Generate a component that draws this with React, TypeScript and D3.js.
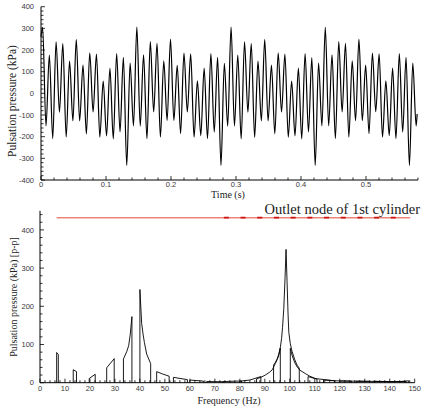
import React from "react";
import * as d3 from "d3";

const W = 424;
const H = 410;

// ---------- Top chart: pulsation pressure time history ----------
// alternating peak / trough values (kPa), one per half cycle
const TIME_START = 0.0025;
const HALF_CYCLE = 0.005177;
const FIRST_POINT: [number, number] = [0, 262];
const LAST_POINT: [number, number] = [0.5787, -95];
const PRESSURE_EXTREMA = [
  305, -150, 177, -209, 238, -87, 230, -202, 149, -127, 249, -127, 130, -187,
  187, -86, 181, -202, 57, -196, 115, -210, 184, -178, 166, -333, 140, -150,
  306, -151, 178, -209, 239, -86, 231, -202, 150, -125, 250, -125, 129, -186,
  186, -86, 182, -202, 58, -195, 116, -209, 184, -179, 166, -333, 139, -151,
  306, -150, 177, -210, 238, -87, 230, -203, 149, -127, 249, -127, 130, -187,
  187, -86, 181, -202, 57, -196, 116, -210, 184, -178, 165, -333, 140, -150,
  305, -150, 178, -209, 239, -86, 231, -202, 150, -126, 250, -126, 130, -186,
  186, -85, 182, -202, 58, -195, 116, -209, 184, -179, 166, -333, 140, -150,
];
const TIME_TICKS = [0, 0.1, 0.2, 0.3, 0.4, 0.5];
const TIME_TICK_LABELS = ["0", "0.1", "0.2", "0.3", "0.4", "0.5"];
const PRESSURE_TICKS = [-400, -300, -200, -100, 0, 100, 200, 300, 400];

// ---------- Bottom chart: spectrum ----------
// each band: list of [frequency (Hz), amplitude (kPa p-p)]
const SPECTRUM_BANDS: [number, number][][] = [
  [[6.67, 79], [7.33, 74]],
  [[13.3, 34], [14.6, 29]],
  [[19.7, 11], [22.1, 22]],
  [[26.7, 39], [29.7, 63]],
  [[33.4, 62], [34.7, 81], [35.5, 97], [36.1, 125], [36.8, 173]],
  [[40.0, 244], [40.7, 155], [41.3, 125], [41.8, 105], [42.7, 75], [44.3, 50]],
  [[46.7, 29], [49.0, 23], [51.7, 17]],
  [[53.4, 14], [59.0, 8]],
  [[60.0, 7], [65.5, 4]],
  [[66.7, 3], [73.3, 2.5]],
  [[73.3, 3], [80.7, 4.5]],
  [[80.0, 4], [84.0, 7], [88.4, 16]],
  [[86.7, 10], [88.4, 14], [90.2, 20], [92.0, 28], [93.0, 34], [94.2, 50], [95.0, 61], [95.6, 72], [96.2, 91]],
  [[93.5, 46], [94.2, 53], [95.0, 63], [95.6, 75], [96.2, 92], [96.7, 115], [97.1, 145], [97.6, 195], [98.1, 275], [98.5, 349],
   [98.9, 265], [99.3, 180], [99.6, 132], [100.2, 102], [100.9, 82], [102.0, 60], [102.9, 46], [103.8, 38]],
  [[100.2, 90], [100.9, 72], [102.0, 52], [103.0, 41], [104.0, 33], [106.2, 24], [108.0, 17], [110.9, 9]],
  [[107.3, 16], [110.0, 11], [114.0, 8], [118.0, 5]],
  [[113.5, 7], [118.0, 5], [124.7, 4]],
  [[120.0, 4.5], [126.0, 4], [132.0, 3.5]],
  [[126.7, 4], [133.0, 3.5], [139.3, 3]],
  [[133.3, 3.5], [140.0, 3], [146.6, 3]],
  [[140.0, 3], [144.0, 3], [147.6, 5]],
];
const LIMIT_VALUE = 432;
const LIMIT_RANGE = [6.67, 148.2];
const LIMIT_DASHED_RANGE = [73.6, 142.4];
const FREQ_TICKS = [0, 10, 20, 30, 40, 50, 60, 70, 80, 90, 100, 110, 120, 130, 140, 150];
const AMP_TICKS = [0, 100, 200, 300, 400];
const TITLE = "Outlet node of 1st cylinder";

const SANS = "'Liberation Sans', Arial, sans-serif";
const SERIF = "'Liberation Serif', 'Times New Roman', serif";
const TICK_COLOR = "#3a3a3a";
const TICK_FS = 7.5;

export default function App() {
  // top scales
  const xT = d3.scaleLinear().domain([0, 0.58]).range([41, 418]);
  const yT = d3.scaleLinear().domain([-400, 400]).range([180, 6.7]);
  const pts: [number, number][] = [FIRST_POINT];
  PRESSURE_EXTREMA.forEach((v, i) => pts.push([TIME_START + i * HALF_CYCLE, v]));
  pts.push(LAST_POINT);
  const lineT = d3
    .line<[number, number]>()
    .x((d) => xT(d[0]))
    .y((d) => yT(d[1]))
    .curve(d3.curveMonotoneX);

  // bottom scales
  const xB = d3.scaleLinear().domain([0, 150]).range([40, 414.7]);
  const yB = d3.scaleLinear().domain([0, 450]).range([382.7, 210.8]);
  const bandPath = (band: [number, number][]) => {
    const full: [number, number][] = [[band[0][0], 0], ...band, [band[band.length - 1][0], 0]];
    return d3
      .line<[number, number]>()
      .x((d) => xB(d[0]))
      .y((d) => yB(d[1]))(full) as string;
  };

  const timeMinor = d3.range(0, 0.5801, 0.02);
  const presMinor = d3.range(-400, 401, 20);
  const freqMinor = d3.range(0, 150.1, 2);
  const ampMinor = d3.range(0, 441, 20);

  const isMajor = (v: number, step: number) => Math.abs(v / step - Math.round(v / step)) < 1e-6;

  return (
    <svg width={W} height={H} style={{ position: "absolute", left: 0, top: 0, background: "#fff" }}>
      <rect width={W} height={H} fill="#fff" />

      {/* ===== TOP CHART ===== */}
      <g>
        <line x1={xT(0)} x2={xT(0.58)} y1={yT(-400)} y2={yT(-400)} stroke="#000" strokeWidth={1} />
        <line x1={xT(0)} x2={xT(0)} y1={yT(-400)} y2={yT(400)} stroke="#000" strokeWidth={1} />
        {timeMinor.map((t, i) => (
          <line
            key={"tm" + i}
            x1={xT(t)}
            x2={xT(t)}
            y1={yT(-400)}
            y2={yT(-400) - (isMajor(t, 0.1) ? 4 : 2.5)}
            stroke="#000"
            strokeWidth={0.8}
          />
        ))}
        {presMinor.map((v, i) => (
          <line
            key={"pm" + i}
            x1={xT(0)}
            x2={xT(0) + (isMajor(v, 100) ? 4 : 2.5)}
            y1={yT(v)}
            y2={yT(v)}
            stroke="#000"
            strokeWidth={0.8}
          />
        ))}
        {TIME_TICKS.map((t, i) => (
          <text
            key={"tl" + i}
            x={xT(t)}
            y={yT(-400) + 6.5}
            textAnchor="middle"
            fontFamily={SANS}
            fontSize={TICK_FS}
            fill={TICK_COLOR}
          >
            {TIME_TICK_LABELS[i]}
          </text>
        ))}
        {PRESSURE_TICKS.map((v) => (
          <text
            key={"pl" + v}
            x={34}
            y={yT(v)}
            dy="0.35em"
            textAnchor="end"
            fontFamily={SANS}
            fontSize={TICK_FS}
            fill={TICK_COLOR}
          >
            {String(v)}
          </text>
        ))}
        <path d={lineT(pts) as string} fill="none" stroke="#000" strokeWidth={1.2} />
        <text x={228} y={197.5} textAnchor="middle" fontFamily={SERIF} fontSize={10} fill="#222">
          Time (s)
        </text>
        <text
          transform={`translate(16,101) rotate(-90)`}
          textAnchor="middle"
          fontFamily={SERIF}
          fontSize={11.5}
          fill="#222"
        >
          Pulsation pressure (kPa)
        </text>
      </g>

      {/* ===== BOTTOM CHART ===== */}
      <g>
        <line x1={xB(0)} x2={xB(150)} y1={yB(0)} y2={yB(0)} stroke="#000" strokeWidth={1} />
        <line x1={xB(0)} x2={xB(0)} y1={yB(0)} y2={yB(450)} stroke="#000" strokeWidth={1} />
        {freqMinor.map((f, i) => (
          <line
            key={"fm" + i}
            x1={xB(f)}
            x2={xB(f)}
            y1={yB(0)}
            y2={yB(0) - (isMajor(f, 10) ? 4 : 2.5)}
            stroke="#000"
            strokeWidth={0.8}
          />
        ))}
        {ampMinor.map((v, i) => (
          <line
            key={"am" + i}
            x1={xB(0)}
            x2={xB(0) + (isMajor(v, 100) ? 4 : 2.5)}
            y1={yB(v)}
            y2={yB(v)}
            stroke="#000"
            strokeWidth={0.8}
          />
        ))}
        {FREQ_TICKS.map((f) => (
          <text
            key={"fl" + f}
            x={xB(f)}
            y={yB(0) + 8}
            textAnchor="middle"
            fontFamily={SANS}
            fontSize={TICK_FS}
            fill={TICK_COLOR}
          >
            {String(f)}
          </text>
        ))}
        {AMP_TICKS.map((v) => (
          <text
            key={"al" + v}
            x={34}
            y={yB(v)}
            dy="0.35em"
            textAnchor="end"
            fontFamily={SANS}
            fontSize={TICK_FS}
            fill={TICK_COLOR}
          >
            {String(v)}
          </text>
        ))}
        <line
          x1={xB(LIMIT_RANGE[0])}
          x2={xB(LIMIT_RANGE[1])}
          y1={yB(LIMIT_VALUE)}
          y2={yB(LIMIT_VALUE)}
          stroke="#ec8479"
          strokeWidth={1.6}
        />
        <line
          x1={xB(LIMIT_DASHED_RANGE[0])}
          x2={xB(LIMIT_DASHED_RANGE[1])}
          y1={yB(LIMIT_VALUE)}
          y2={yB(LIMIT_VALUE)}
          stroke="#cc1510"
          strokeWidth={1.8}
          strokeDasharray="5 11.7"
        />
        {SPECTRUM_BANDS.map((b, i) => (
          <path key={"b" + i} d={bandPath(b)} fill="none" stroke="#000" strokeWidth={0.9} strokeLinejoin="round" />
        ))}
        <text x={420} y={214} textAnchor="end" fontFamily={SERIF} fontSize={14.5} fill="#222">
          {TITLE}
        </text>
        <text x={229} y={403.5} textAnchor="middle" fontFamily={SERIF} fontSize={10} fill="#222">
          Frequency (Hz)
        </text>
        <text
          transform={`translate(17,297) rotate(-90)`}
          textAnchor="middle"
          fontFamily={SERIF}
          fontSize={10}
          fill="#222"
        >
          Pulsation pressure (kPa) [p-p]
        </text>
      </g>
    </svg>
  );
}
